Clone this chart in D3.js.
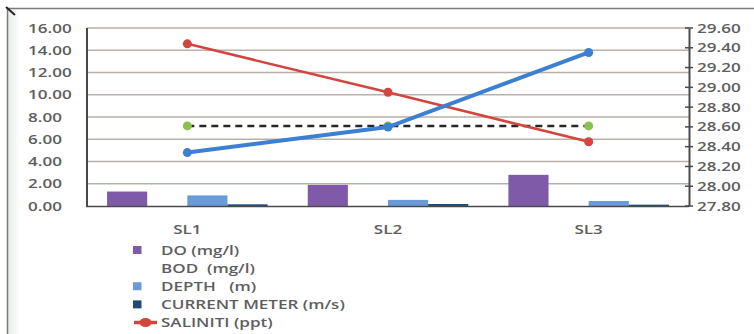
<!DOCTYPE html>
<html>
<head>
<meta charset="utf-8">
<script src="https://cdn.jsdelivr.net/npm/d3@7/dist/d3.min.js"></script>
<style>
  html, body { margin: 0; padding: 0; background: #fff; }
  svg { display: block; }
  text { font-family: "Open Sans", "DejaVu Sans", sans-serif; }
</style>
</head>
<body>
<svg id="chart" width="754" height="334"></svg>
<script>
// Sampling stations
const stations = ["SL1", "SL2", "SL3"];

// Bar series (left axis)
const doValues = [1.3, 1.9, 2.8];        // DO (mg/l)
const bodValues = [0, 0, 0];             // BOD (mg/l)
const depthValues = [0.95, 0.55, 0.45];  // DEPTH (m)
const currentValues = [0.15, 0.18, 0.12]; // CURRENT METER (m/s)

// Line series
const blueLineValues = [4.8, 7.1, 13.8];      // left axis
const dashedLineValues = [7.2, 7.2, 7.2];     // left axis
const salinityValues = [29.44, 28.95, 28.45]; // SALINITI (ppt), right axis

// Axis ticks
const leftTicks = [0, 2, 4, 6, 8, 10, 12, 14, 16];
const rightTicks = [27.8, 28.0, 28.2, 28.4, 28.6, 28.8, 29.0, 29.2, 29.4, 29.6];

const barSeries = [
  { key: "DO (mg/l)", values: doValues, color: "#7f5aa8" },
  { key: "BOD  (mg/l)", values: bodValues, color: "none" },
  { key: "DEPTH   (m)", values: depthValues, color: "#6a9ad8" },
  { key: "CURRENT METER (m/s)", values: currentValues, color: "#1f4a7a" }
];

const STRETCH = 1.42;
const textColor = "#5e5e5e";

const svg = d3.select("#chart");

// Stretch text horizontally to the wide lettering of the chart
function widen(sel) {
  sel.each(function () {
    const len = this.getComputedTextLength();
    d3.select(this).attr("textLength", len * STRETCH).attr("lengthAdjust", "spacingAndGlyphs");
  });
}

// Frame
svg.append("rect").attr("width", 754).attr("height", 334).attr("fill", "#fff");
const defs = svg.append("defs");
const shade = defs.append("linearGradient").attr("id", "edgeShade").attr("x1", 0).attr("x2", 1);
shade.append("stop").attr("offset", 0).attr("stop-color", "#e6ebe6");
shade.append("stop").attr("offset", 1).attr("stop-color", "#ffffff");
svg.append("rect").attr("x", 8).attr("y", 9).attr("width", 12).attr("height", 325)
  .attr("fill", "url(#edgeShade)");
svg.append("line").attr("x1", 7).attr("x2", 754).attr("y1", 8.5).attr("y2", 8.5)
  .attr("stroke", "#7a7a7a").attr("stroke-width", 1.5);
svg.append("line").attr("x1", 7.5).attr("x2", 7.5).attr("y1", 8).attr("y2", 334)
  .attr("stroke", "#7a7a7a").attr("stroke-width", 1.5);
svg.append("line").attr("x1", 6).attr("y1", 7).attr("x2", 15).attr("y2", 15)
  .attr("stroke", "#222").attr("stroke-width", 2);

// Scales
const x = d3.scaleBand().domain(stations).range([87, 689]).paddingInner(0).paddingOuter(0);
const xInner = d3.scaleBand().domain(barSeries.map(d => d.key))
  .range([x.bandwidth() * 0.1, x.bandwidth() * 0.9]);
const yL = d3.scaleLinear().domain([0, 16]).range([206, 28]);
const yR = d3.scaleLinear().domain([27.8, 29.6]).range([206, 28]);

// Gridlines
svg.append("g").selectAll("line").data(leftTicks.filter(t => t > 0)).join("line")
  .attr("x1", 87).attr("x2", 689)
  .attr("y1", d => yL(d)).attr("y2", d => yL(d))
  .attr("stroke", "#b9b1a9").attr("stroke-width", 1.5);

// Left axis labels
svg.append("g").selectAll("text").data(leftTicks).join("text")
  .attr("x", 28).attr("y", d => yL(d) + 4.5)
  .attr("font-size", 12).attr("font-weight", 600).attr("fill", textColor)
  .text(d => d.toFixed(2))
  .call(widen);

// Right axis with cross ticks
const rightAxis = d3.axisRight(yR).tickValues(rightTicks).tickSize(0).tickFormat("");
svg.append("g").attr("transform", "translate(689,0)").call(rightAxis)
  .call(g => g.select(".domain").attr("stroke", "#4a4a4a").attr("stroke-width", 2));
svg.append("g").selectAll("line").data(rightTicks).join("line")
  .attr("x1", 685).attr("x2", 693)
  .attr("y1", d => yR(d)).attr("y2", d => yR(d))
  .attr("stroke", "#4a4a4a").attr("stroke-width", 1.5);
svg.append("g").selectAll("text").data(rightTicks).join("text")
  .attr("x", 697).attr("y", d => yR(d) + 4.5)
  .attr("font-size", 12).attr("font-weight", 600).attr("fill", textColor)
  .text(d => d.toFixed(2))
  .call(widen);

// Bars
const barG = svg.append("g");
barSeries.forEach(s => {
  barG.append("g").selectAll("rect").data(stations.map((c, i) => ({ c, v: s.values[i] })))
    .join("rect")
    .attr("x", d => x(d.c) + xInner(s.key))
    .attr("width", xInner.bandwidth())
    .attr("y", d => yL(d.v))
    .attr("height", d => yL(0) - yL(d.v))
    .attr("fill", s.color);
});

// Left and bottom axis lines
svg.append("line").attr("x1", 87).attr("x2", 87).attr("y1", 28).attr("y2", 207)
  .attr("stroke", "#4a4a4a").attr("stroke-width", 2);
svg.append("line").attr("x1", 86).attr("x2", 689).attr("y1", 206.5).attr("y2", 206.5)
  .attr("stroke", "#4a4a4a").attr("stroke-width", 1.5);

// Category labels
svg.append("g").selectAll("text").data(stations).join("text")
  .attr("x", d => x(d) + x.bandwidth() / 2).attr("y", 234)
  .attr("text-anchor", "middle")
  .attr("font-size", 12).attr("font-weight", 600).attr("fill", textColor)
  .text(d => d)
  .call(widen);

const cx = d => x(d) + x.bandwidth() / 2;

// Dashed level line with green markers
const dashedPts = stations.map((c, i) => [cx(c), yL(dashedLineValues[i])]);
svg.append("path").attr("d", d3.line()(dashedPts))
  .attr("fill", "none").attr("stroke", "#262626").attr("stroke-width", 2.5)
  .attr("stroke-dasharray", "7,5");
svg.append("g").selectAll("circle").data(dashedPts).join("circle")
  .attr("cx", d => d[0]).attr("cy", d => d[1]).attr("r", 4.5).attr("fill", "#8cc152");

// Salinity line
const salPts = stations.map((c, i) => [cx(c), yR(salinityValues[i])]);
svg.append("path").attr("d", d3.line()(salPts))
  .attr("fill", "none").attr("stroke", "#d2463f").attr("stroke-width", 2.5);
svg.append("g").selectAll("circle").data(salPts).join("circle")
  .attr("cx", d => d[0]).attr("cy", d => d[1]).attr("r", 4.5).attr("fill", "#d2463f");

// Blue line
const bluePts = stations.map((c, i) => [cx(c), yL(blueLineValues[i])]);
svg.append("path").attr("d", d3.line()(bluePts))
  .attr("fill", "none").attr("stroke", "#3d7fd0").attr("stroke-width", 4)
  .attr("stroke-linecap", "round");
svg.append("g").selectAll("circle").data(bluePts).join("circle")
  .attr("cx", d => d[0]).attr("cy", d => d[1]).attr("r", 4.5).attr("fill", "#3d7fd0");

// Legend
const legendRows = [
  { label: "DO (mg/l)", type: "rect", color: "#7f5aa8" },
  { label: "BOD  (mg/l)", type: "none" },
  { label: "DEPTH   (m)", type: "rect", color: "#6a9ad8" },
  { label: "CURRENT METER (m/s)", type: "rect", color: "#1f4a7a" },
  { label: "SALINITI (ppt)", type: "line", color: "#d2463f" }
];
const legendY = d3.scalePoint().domain(legendRows.map(d => d.label)).range([250, 322.5]);
const lg = svg.append("g");
legendRows.forEach(r => {
  const yy = legendY(r.label);
  if (r.type === "rect") {
    lg.append("rect").attr("x", 133).attr("y", yy - 4).attr("width", 8.5).attr("height", 8)
      .attr("fill", r.color);
  } else if (r.type === "line") {
    lg.append("line").attr("x1", 134).attr("x2", 157).attr("y1", yy).attr("y2", yy)
      .attr("stroke", r.color).attr("stroke-width", 3.5);
    lg.append("ellipse").attr("cx", 145.5).attr("cy", yy).attr("rx", 6).attr("ry", 4.5)
      .attr("fill", r.color);
  }
  lg.append("text").attr("x", 161).attr("y", yy + 4.5)
    .attr("font-size", 12).attr("font-weight", 600).attr("fill", textColor)
    .attr("xml:space", "preserve")
    .style("white-space", "pre")
    .text(r.label)
    .call(widen);
});
</script>
</body>
</html>
